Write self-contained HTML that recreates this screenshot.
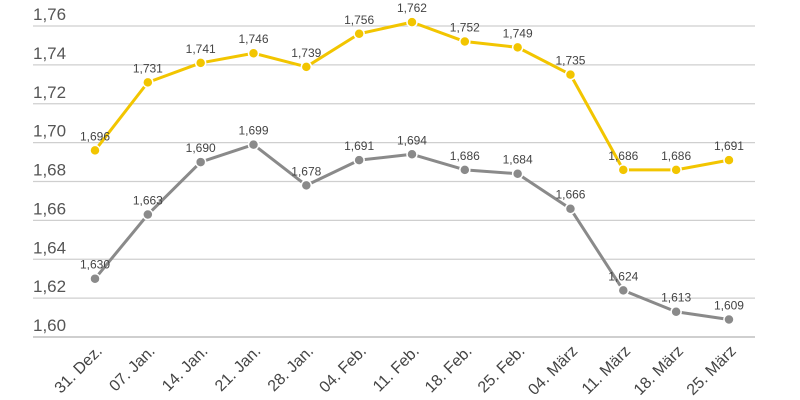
<!DOCTYPE html>
<html><head><meta charset="utf-8"><style>
body{margin:0;background:#fff;}
svg{display:block;font-family:"Liberation Sans","DejaVu Sans",sans-serif;}
</style></head><body>
<svg id="chart" width="800" height="400"></svg>
<script>
const categories=["31. Dez.","07. Jan.","14. Jan.","21. Jan.","28. Jan.","04. Feb.","11. Feb.","18. Feb.","25. Feb.","04. März","11. März","18. März","25. März"];
const seriesYellow=[1.696,1.731,1.741,1.746,1.739,1.756,1.762,1.752,1.749,1.735,1.686,1.686,1.691];
const seriesGray=[1.630,1.663,1.690,1.699,1.678,1.691,1.694,1.686,1.684,1.666,1.624,1.613,1.609];
const yTicks=[1.60,1.62,1.64,1.66,1.68,1.70,1.72,1.74,1.76];
const NS="http://www.w3.org/2000/svg";
const svg=document.getElementById('chart');
const x0=95,xStep=52.83,yBase=337,yTop=26,vMin=1.60,vMax=1.76;
function xs(i){return x0+i*xStep;}
function ys(v){return yBase-(v-vMin)/(vMax-vMin)*(yBase-yTop);}
function mk(tag,attrs){const e=document.createElementNS(NS,tag);for(const k in attrs)e.setAttribute(k,attrs[k]);svg.appendChild(e);return e;}
const fmt=(v,d)=>v.toFixed(d).replace('.',',');
yTicks.forEach(t=>{
  const l=mk('line',{x1:33,x2:755,y1:ys(t),y2:ys(t),stroke:'#cfcfcf','stroke-width':t===vMin?2:1.2});
  
  
  const tx=mk('text',{x:33,y:ys(t)-6,'font-size':17,fill:'#555'});
  tx.textContent=fmt(t,2);
  
  
});
categories.forEach((c,i)=>{
  const x=xs(i)+8,y=352;
  const tx=mk('text',{x:x,y:y,'font-size':16,fill:'#444','text-anchor':'end',transform:`rotate(-45 ${x} ${y})`});
  tx.textContent=c;
  
  
});
function series(data,color,name){
  const p=mk('polyline',{points:data.map((v,i)=>xs(i)+','+ys(v)).join(' '),fill:'none',stroke:color,'stroke-width':3,'stroke-linejoin':'round'});
  
  
  data.forEach((v,i)=>{
    const c=mk('circle',{cx:xs(i),cy:ys(v),r:5,fill:color,stroke:'#fff','stroke-width':1.5});
    
    
    const t=mk('text',{x:xs(i),y:ys(v)-10,'font-size':12,fill:'#444','text-anchor':'middle'});
    t.textContent=fmt(v,3);
    
    
  });
}
series(seriesYellow,'#f2c500','yellow-series');
series(seriesGray,'#8a8a8a','gray-series');
</script>
</body></html>
